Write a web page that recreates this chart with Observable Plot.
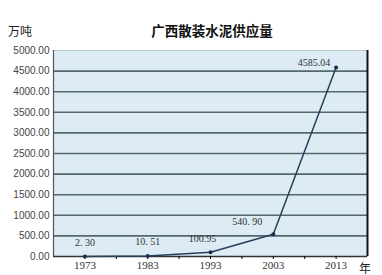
<!DOCTYPE html>
<html><head><meta charset="utf-8">
<script src="https://cdn.jsdelivr.net/npm/d3@7"></script>
<script src="https://cdn.jsdelivr.net/npm/@observablehq/plot@0.6"></script>
<style>
html,body{margin:0;padding:0;background:#fff;}
#wrap{position:relative;width:382px;height:275px;font-family:"Noto Sans CJK SC",sans-serif;}
#title{position:absolute;left:132px;top:20px;width:160px;text-align:center;font-size:13.5px;font-weight:bold;color:#111;letter-spacing:0px;}
#unit{position:absolute;left:8px;top:22px;font-size:12px;color:#222;}
#yr{position:absolute;left:359px;top:259px;font-size:12px;color:#222;}
</style></head>
<body><div id="wrap"><div id="title">广西散装水泥供应量</div><div id="unit">万吨</div><div id="yr">年</div></div>
<script>
const years = [1973, 1983, 1993, 2003, 2013];
const supply = [2.30, 10.51, 100.95, 540.90, 4585.04];
const labels = ["2. 30", "10. 51", "100.95", "540. 90", "4585.04"];
const yTicks = [0, 500, 1000, 1500, 2000, 2500, 3000, 3500, 4000, 4500, 5000];
const xTicks = [1973, 1983, 1993, 2003, 2013];
const xMinor = [1973, 1978, 1983, 1988, 1993, 1998, 2003, 2008, 2013];

const data = years.map((y, i) => ({year: y, value: supply[i], label: labels[i]}));
const offs = [[0, -14], [0, -14], [-8, -14], [-26, -12], [-22, -5]];

const plot = Plot.plot({
  width: 382, height: 275,
  marginLeft: 53, marginRight: 15, marginTop: 50, marginBottom: 19,
  x: {domain: [1968, 2018]},
  y: {domain: [0, 5000]},
  style: {fontFamily: "Liberation Sans, sans-serif", background: "transparent"},
  marks: [
    Plot.frame({fill: "#dcebf4", stroke: "#b8c8cc"}),
    Plot.gridY(yTicks.filter(d => d > 0 && d < 5000), {stroke: "#55686c", strokeOpacity: 1, strokeWidth: 1.6}),
    Plot.ruleX([1968], {stroke: "#555", strokeWidth: 1.2}),
    Plot.ruleX([2018], {stroke: "#111", strokeWidth: 2}),
    Plot.ruleY([0], {stroke: "#333", strokeWidth: 1.5}),
    Plot.axisY({ticks: yTicks, tickFormat: d => d.toFixed(2), tickSize: 0, tickPadding: 4, fontSize: 10, fill: "#444", label: null}),
    Plot.axisX({ticks: xMinor, tickFormat: d => xTicks.includes(d) ? String(d) : "", tickSize: 3, tickPadding: 2, fontSize: 11, fill: "#333", label: null, fontFamily: "Liberation Serif, serif"}),
    Plot.line(data, {x: "year", y: "value", stroke: "#26405a", strokeWidth: 1.5}),
    Plot.dot(data, {x: "year", y: "value", r: 2, fill: "#1c2f4a"}),
    ...data.map((d, i) => Plot.text([d], {x: "year", y: "value", text: "label", dx: offs[i][0], dy: offs[i][1], fontSize: 10, fill: "#333", fontFamily: "Liberation Serif, serif"}))
  ]
});
document.getElementById("wrap").prepend(plot);
plot.style.position = "absolute"; plot.style.left = "0"; plot.style.top = "0";
</script></body></html>
